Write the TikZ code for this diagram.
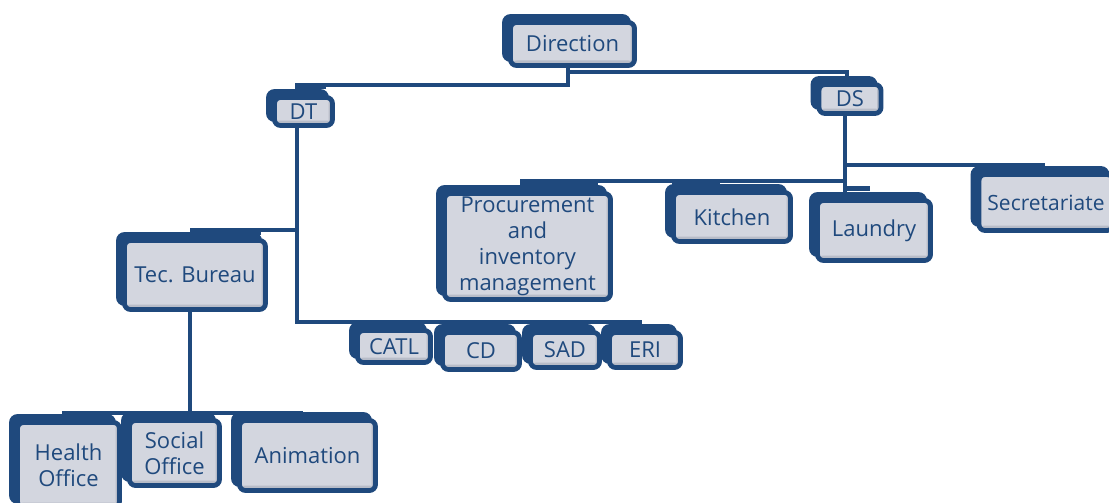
\documentclass[tikz,border=0pt]{standalone}
\usepackage{fontspec}
\setmainfont{Open Sans}
\usetikzlibrary{shadows}
\definecolor{navy}{HTML}{1F497D}
\definecolor{boxfill}{HTML}{D3D6DF}
\definecolor{boxshade}{HTML}{B7BCC8}
\pgfdeclarelayer{background}
\pgfsetlayers{background,main}
\begin{document}
\begin{tikzpicture}[x=1pt,y=-1pt,
  box/.style={draw=navy, line width=4.8pt, fill=boxfill, rounded corners=6pt,
    text=navy, inner sep=0pt, align=center,
    font=\fontsize{22}{26}\selectfont,
    copy shadow={shadow xshift=-6pt, shadow yshift=6pt, fill=navy, draw=navy},
    path picture={
      \fill[boxshade] ([yshift=5pt]path picture bounding box.south west)
        rectangle (path picture bounding box.south east);
      \fill[boxshade] ([xshift=-4pt]path picture bounding box.north east)
        rectangle (path picture bounding box.south east);}},
  conn/.style={draw=navy, line width=4.4pt},
  tab/.style={draw=navy, line width=5pt},
]
\useasboundingbox (0,0) rectangle (1109,503);
\clip (0,0) rectangle (1109,503);

\begin{scope}[every node/.append style={box}]
\path
  node[minimum width=124pt, minimum height=43pt] (dir) at (572.5,44) {Direction}
  node[minimum width=58pt, minimum height=28pt] (dt) at (303.5,111.5) {DT}
  node[minimum width=62pt, minimum height=29pt] (ds) at (850,99) {DS}
  node[minimum width=166pt, minimum height=106pt] (proc) at (527.5,246.5) {Procurement\\and\\inventory\\management}
  node[minimum width=117pt, minimum height=49pt] (kit) at (732,217) {Kitchen}
  node[minimum width=113pt, minimum height=60pt] (lau) at (874,230.5) {Laundry}
  node[minimum width=134pt, minimum height=56pt, font=\fontsize{21}{26}\selectfont] (sec) at (1046,202.5) {Secretariate}
  node[minimum width=141pt, minimum height=69pt] (tec) at (195,275) {Tec. Bureau}
  node[minimum width=73pt, minimum height=32pt] (catl) at (394,346.5) {CATL}
  node[minimum width=77pt, minimum height=37pt] (cd) at (481,351) {CD}
  node[minimum width=69pt, minimum height=35pt] (sad) at (565,350) {SAD}
  node[minimum width=71pt, minimum height=35pt] (eri) at (645,350) {ERI}
  node[minimum width=102pt, minimum height=85pt] (hea) at (68.5,465) {Health\\Office}
  node[minimum width=90pt, minimum height=65pt] (soc) at (174.5,453) {Social\\Office}
  node[minimum width=136pt, minimum height=70pt] (ani) at (307.5,455.5) {Animation};
\end{scope}

% elbow connectors behind the boxes
\begin{pgfonlayer}{background}
  \fill[white] (0,0) rectangle (1109,503);
  % Direction to DT and DS
  \draw[conn] ([xshift=-4.5pt]dir.south) -- ++(0,17) -| ([xshift=-6.5pt]dt.north);
  \draw[conn] ([xshift=-4.5pt]dir.south) -- ++(0,4) -| ([xshift=-3pt]ds.north);
  \draw[tab] ([xshift=-6.5pt,yshift=9pt]dt.north) -- ([xshift=22pt,yshift=9pt]dt.north);
  % DS to its units
  \draw[conn] ([xshift=-5pt]ds.south) |- ([xshift=-7.5pt,yshift=10pt]proc.north);
  \draw[conn] ([xshift=-5pt]ds.south) -- ([xshift=-29pt]lau.north);
  \draw[conn] ([xshift=-5pt]ds.south) |- ([xshift=-1pt,yshift=7pt]sec.north);
  \draw[tab] ([xshift=-7.5pt,yshift=9pt]proc.north) -- ([xshift=70pt,yshift=9pt]proc.north);
  \draw[tab] ([xshift=-60pt,yshift=6pt]kit.north) -- ([xshift=-12pt,yshift=6pt]kit.north);
  \draw[tab] ([xshift=-29pt,yshift=10pt]lau.north) -- ([xshift=-4pt,yshift=10pt]lau.north);
  % DT to Tec. Bureau and the service row
  \draw[conn] ([xshift=-6.5pt]dt.south) |- ([xshift=-3pt,yshift=8pt]eri.north);
  \draw[conn] ([xshift=-6.5pt]dt.south) |- ([xshift=-5pt,yshift=8pt]tec.north);
  \draw[tab] ([xshift=-5pt,yshift=6pt]tec.north) -- ([xshift=66pt,yshift=6pt]tec.north);
  % Tec. Bureau to its offices
  \draw[conn] ([xshift=-5pt]tec.south) |- ([xshift=-4.5pt,yshift=5pt]ani.north);
  \draw[conn] ([xshift=-5pt]tec.south) |- ([xshift=-6.5pt,yshift=7pt]hea.north);
\end{pgfonlayer}
\end{tikzpicture}
\end{document}
